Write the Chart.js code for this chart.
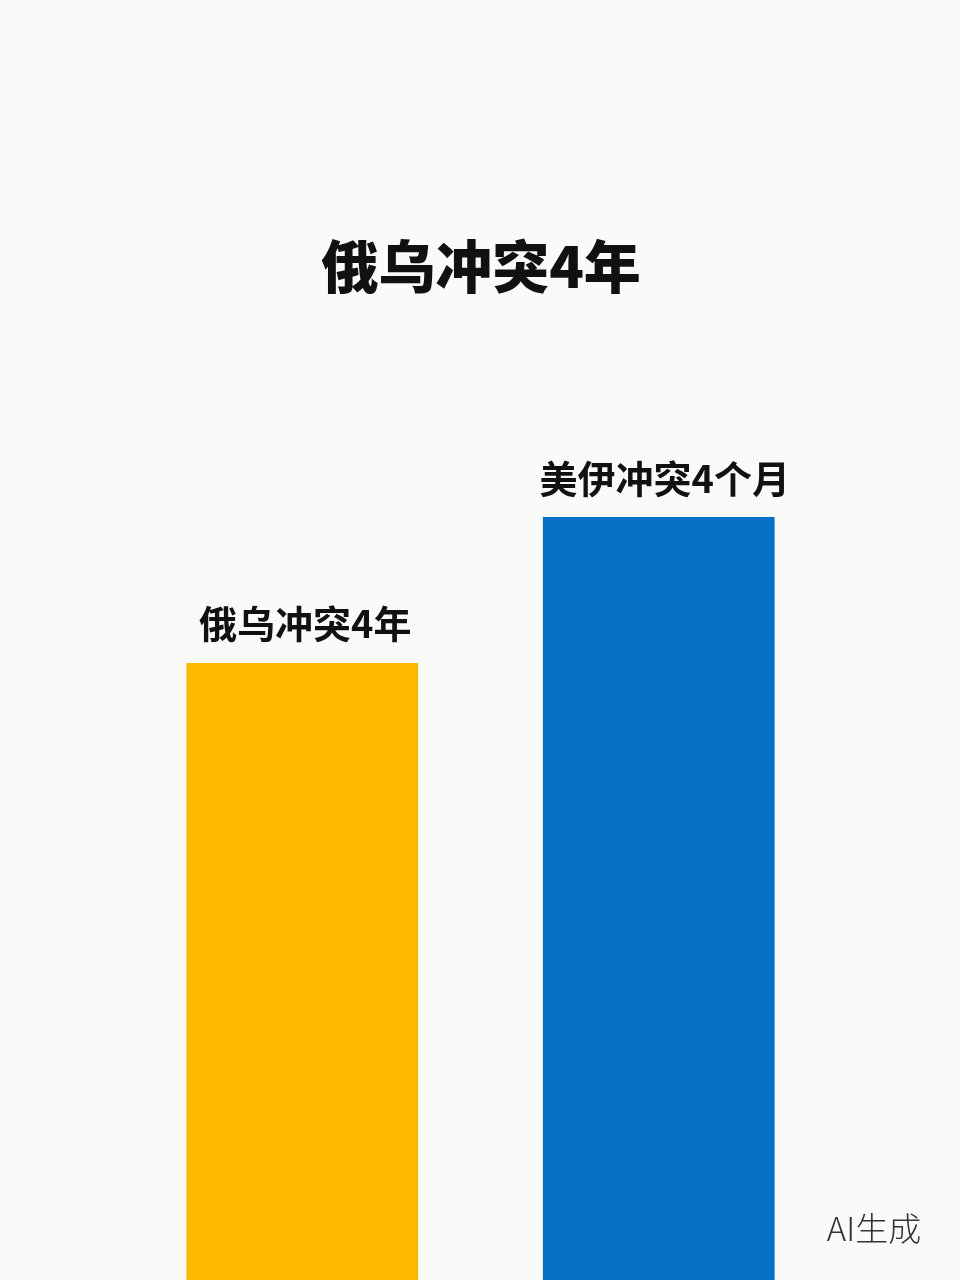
<!DOCTYPE html>
<html>
<head>
<meta charset="utf-8">
<script src="https://cdn.jsdelivr.net/npm/chart.js@4"></script>
<style>
    html, body { margin: 0; padding: 0; background: #fafaf8; }
    #wrap { width: 960px; height: 1280px; position: relative; }
</style>
</head>
<body>
<div id="wrap"><canvas id="compareChart"></canvas></div>
<script>
// Data
const categories = ["俄乌冲突4年", "美伊冲突4个月"];
const values = [48.2, 59.6];
const barColors = ["#fdba00", "#0670c5"];
const titleText = "俄乌冲突4年";
const footText = "AI生成";

const CJK = '"Noto Sans CJK SC", "Noto Sans", sans-serif';

// Labels above bars, title and corner mark
const textPlugin = {
    id: "textPlugin",
    afterDatasetsDraw(chart) {
        const c = chart.ctx;
        const meta = chart.getDatasetMeta(0);
        c.save();
        c.fillStyle = "#111";
        c.textAlign = "center";
        c.textBaseline = "middle";
        c.font = "bold 38px " + CJK;
        meta.data.forEach((bar, i) => {
            c.fillText(categories[i], bar.x + (i === 0 ? 3 : 6), bar.y - 39);
        });

        c.font = "900 57px " + CJK;
        c.fillText(titleText, 481, 266);

        c.fillStyle = "#333";
        c.font = "300 33px " + CJK;
        c.fillText(footText, 874, 1228);
        c.restore();
    },
};

const ctx = document.getElementById("compareChart").getContext("2d");
new Chart(ctx, {
    type: "bar",
    data: {
        labels: categories,
        datasets: [
            {
                data: values,
                backgroundColor: barColors,
                borderWidth: 0,
                barPercentage: 0.65,
                categoryPercentage: 1,
            },
        ],
    },
    options: {
        responsive: true,
        maintainAspectRatio: false,
        animation: false,
        layout: { padding: { left: 124, right: 123, top: 0, bottom: 0 } },
        plugins: {
            legend: { display: false },
            tooltip: { enabled: false },
            title: { display: false },
        },
        scales: {
            x: { display: false },
            y: { display: false, min: 0, max: 100 },
        },
    },
    plugins: [textPlugin],
});
</script>
</body>
</html>
